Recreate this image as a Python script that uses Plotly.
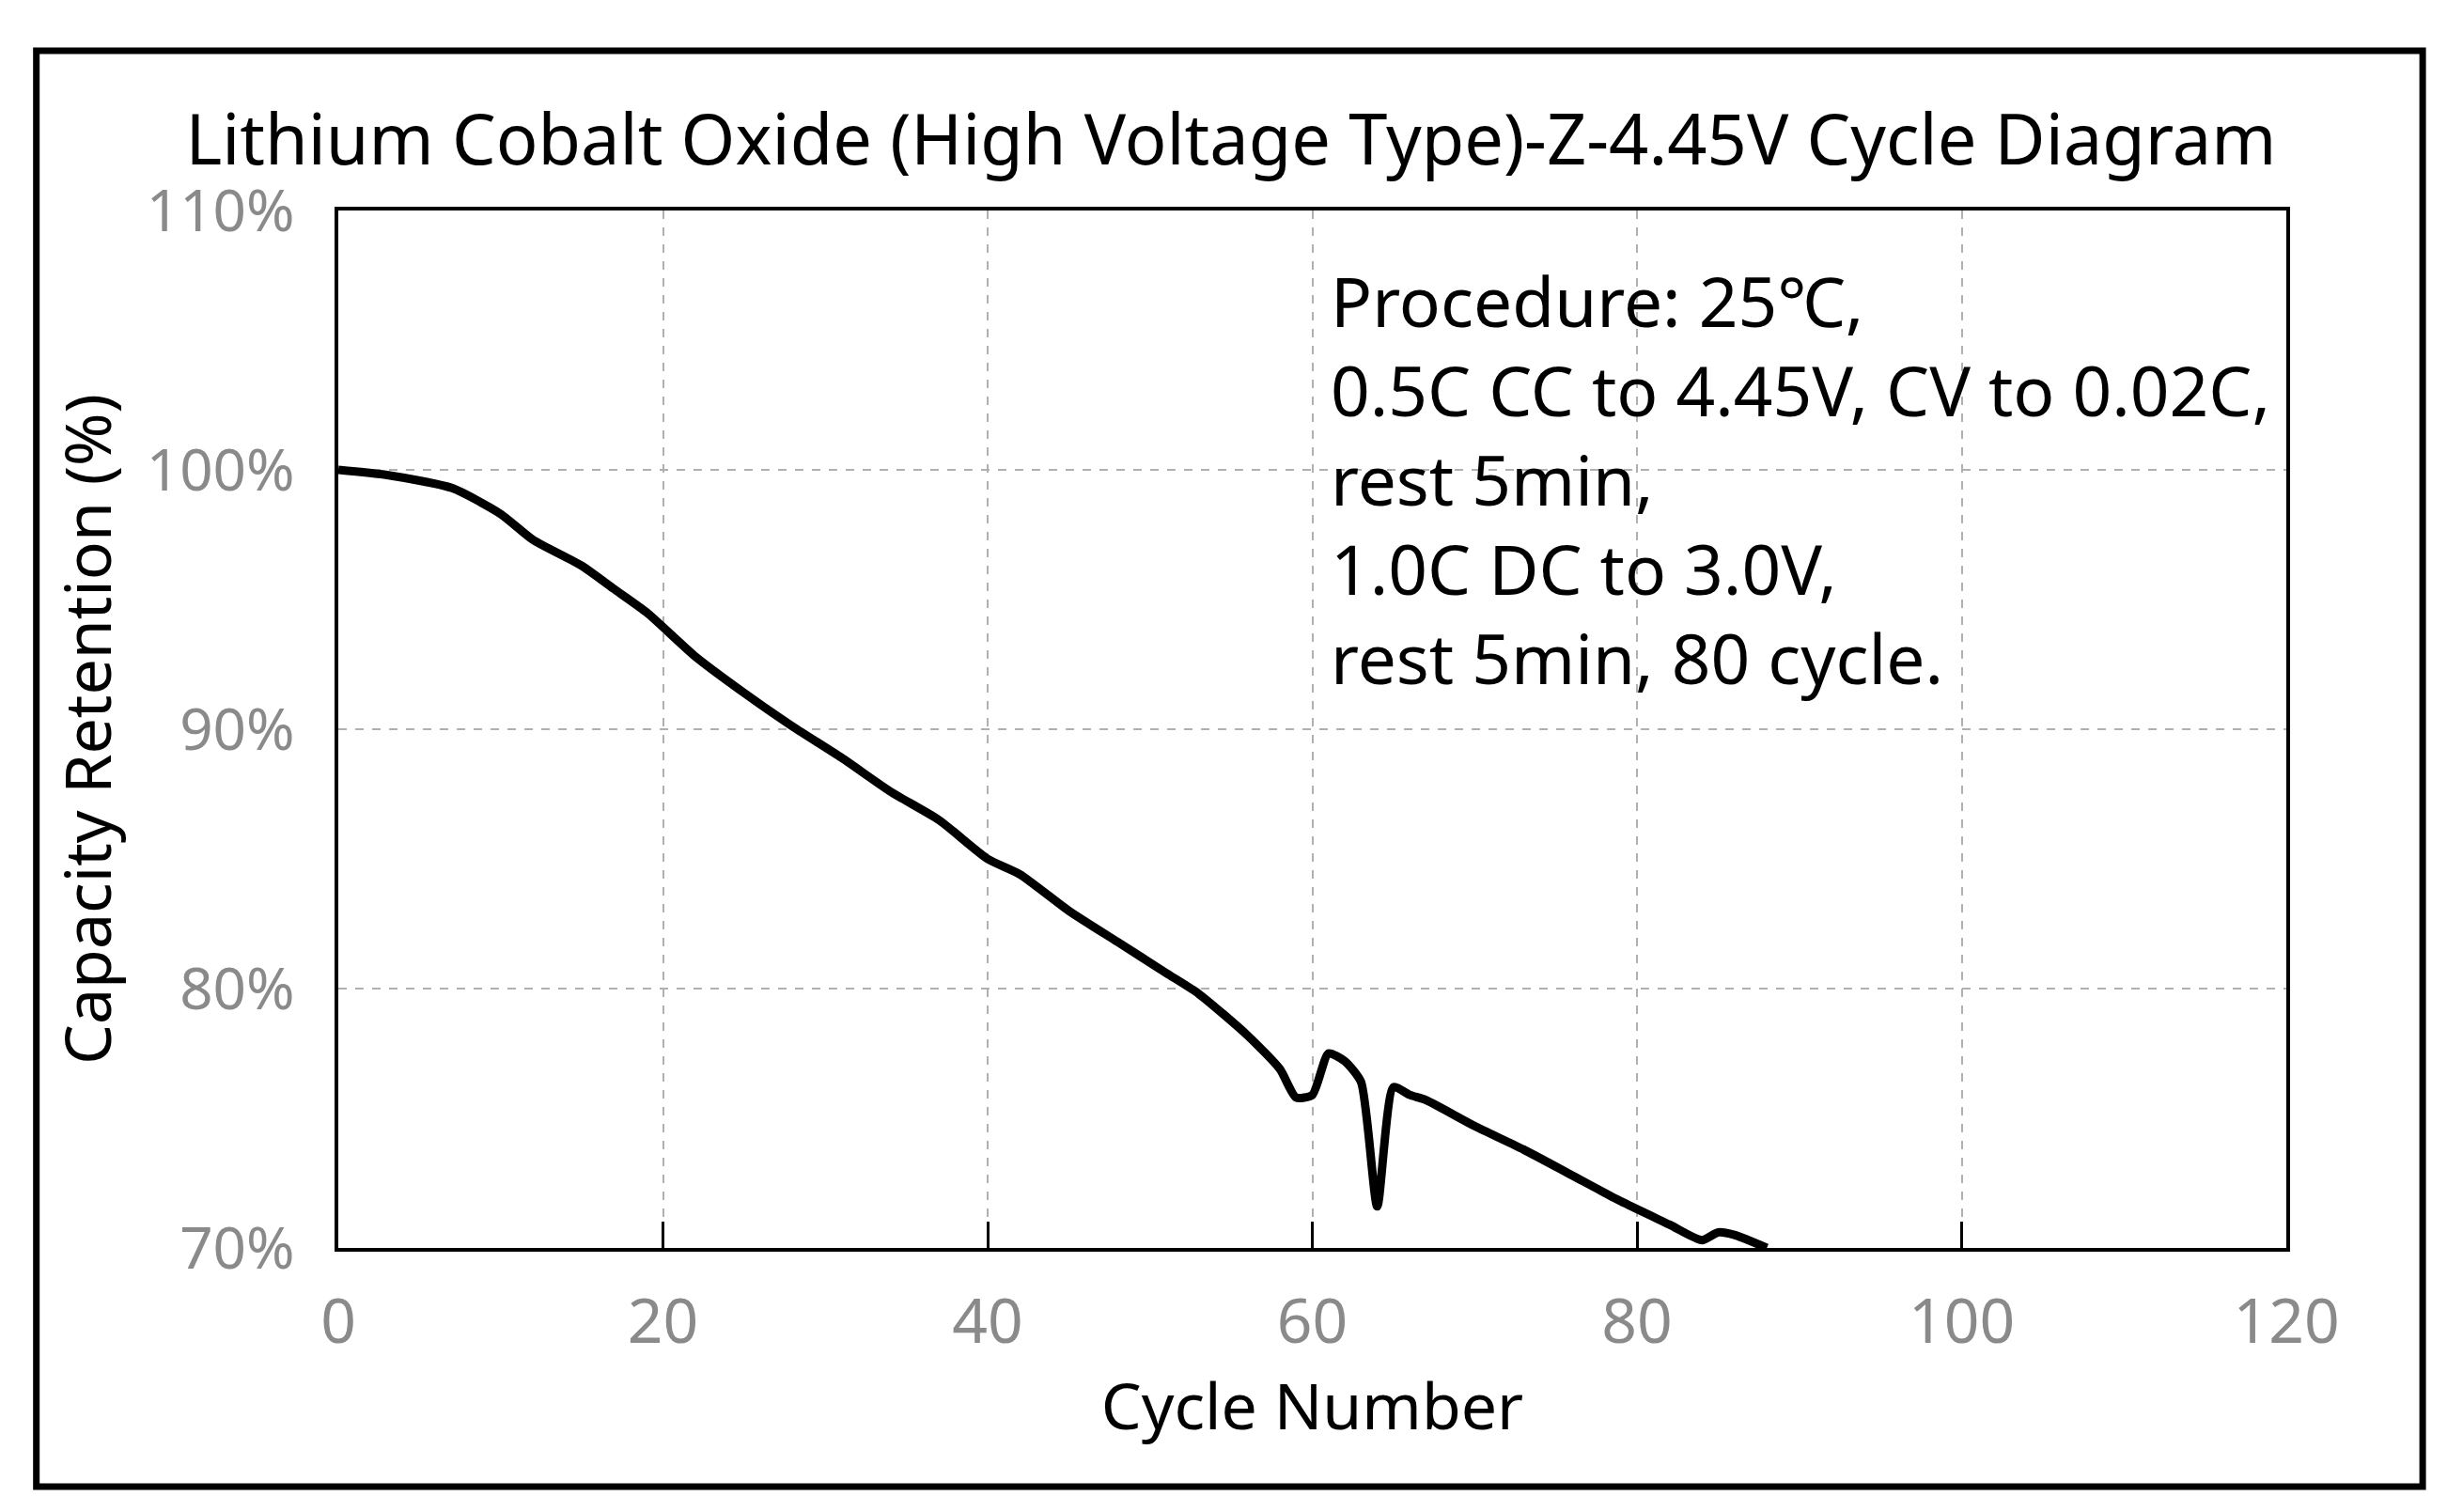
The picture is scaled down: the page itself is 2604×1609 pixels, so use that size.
import plotly.graph_objects as go

# ── data ─────────────────────────────────────────────────────────────────────
cycles = [0, 3, 7, 10, 12, 15, 17, 19, 22, 25, 28, 31, 34, 37, 40, 42, 45, 48,
          51, 53, 56, 58, 59, 60, 61, 62, 63, 64, 65, 66, 67, 70, 73, 76, 79,
          82, 84, 85, 86, 88]
retention = [100.0, 99.8, 99.3, 98.3, 97.3, 96.3, 95.4, 94.5, 92.8, 91.4, 90.1,
             88.9, 87.6, 86.5, 85.0, 84.4, 83.0, 81.8, 80.6, 79.8, 78.2, 76.9,
             75.8, 75.9, 77.5, 77.2, 76.4, 71.6, 76.2, 75.9, 75.7, 74.7, 73.8,
             72.8, 71.8, 70.9, 70.3, 70.6, 70.5, 70.0]
y_ticks = [70, 80, 90, 100, 110]
y_labels = ['70%', '80%', '90%', '100%', '110%']
x_ticks = [0, 20, 40, 60, 80, 100, 120]

FONT = 'Noto Sans'
GREY = '#8a8a8a'

fig = go.Figure(go.Scatter(
    x=cycles, y=retention, mode='lines',
    line=dict(color='black', width=9, shape='spline', smoothing=0.6),
    showlegend=False,
))

fig.update_layout(
    width=2604, height=1609,
    paper_bgcolor='white', plot_bgcolor='white',
    margin=dict(l=352, r=179, t=216, b=289),
    font=dict(family=FONT, color='black'),
    title=dict(text='Lithium Cobalt Oxide (High Voltage Type)-Z-4.45V Cycle Diagram',
               x=0.5, xanchor='center', y=0.912, yanchor='middle',
               font=dict(size=74, color='black')),
    xaxis=dict(range=[0, 120], tickvals=x_ticks, ticks='inside', ticklen=28,
               tickwidth=3, tickcolor='black', ticklabelstandoff=18,
               showgrid=True, gridcolor='#b0b0b0', griddash='dash', gridwidth=2,
               showline=True, linecolor='black', linewidth=4, mirror=True,
               zeroline=False, tickfont=dict(size=66, color=GREY),
               title=dict(text='Cycle Number', font=dict(size=68, color='black'),
                          standoff=24)),
    yaxis=dict(range=[70, 110], tickvals=y_ticks, ticktext=y_labels, ticks='',
               ticklabelstandoff=30,
               showgrid=True, gridcolor='#b0b0b0', griddash='dash', gridwidth=2,
               showline=True, linecolor='black', linewidth=4, mirror=True,
               zeroline=False, tickfont=dict(size=62, color=GREY),
               title=dict(text='Capacity Retention (%)',
                          font=dict(size=68, color='black'), standoff=16)),
)

fig.add_annotation(
    x=61, y=108.4, xref='x', yref='y', xanchor='left', yanchor='top',
    align='left', showarrow=False,
    text=('Procedure: 25℃,<br>0.5C CC to 4.45V, CV to 0.02C,<br>rest 5min,'
          '<br>1.0C DC to 3.0V,<br>rest 5min, 80 cycle.'),
    font=dict(size=73, color='black', family=FONT),
)

# outer frame
fig.add_shape(type='rect', xref='paper', yref='paper',
              x0=-0.155, x1=1.07, y0=-0.23, y1=1.154,
              line=dict(color='black', width=7))

fig.write_html('out.html')
